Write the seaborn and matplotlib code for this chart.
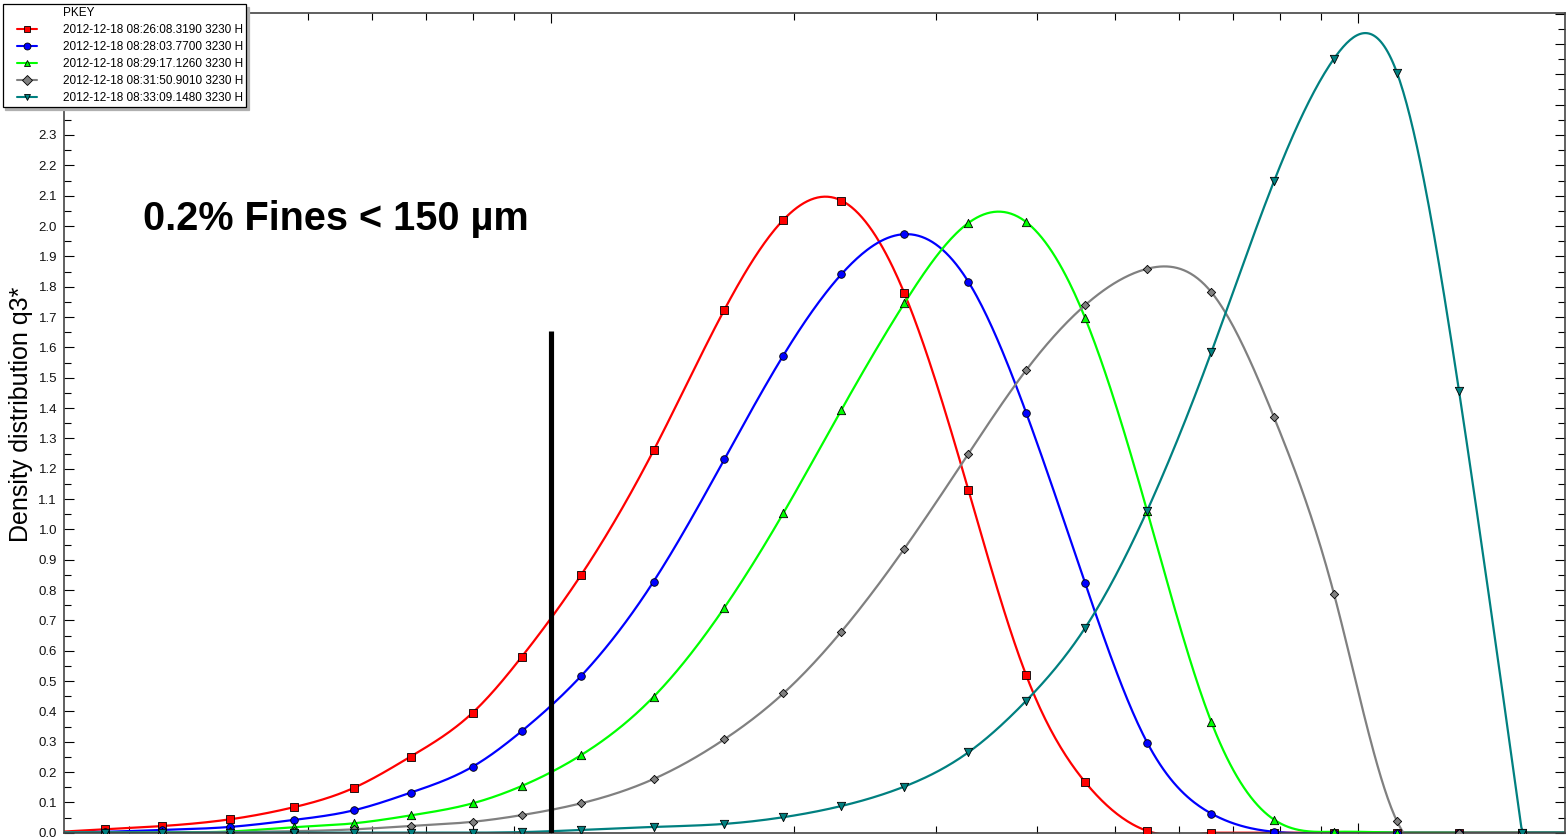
import numpy as np
import pandas as pd
import matplotlib
matplotlib.use("Agg")
import matplotlib.pyplot as plt
import matplotlib.ticker as mticker
from matplotlib.lines import Line2D
from matplotlib.legend_handler import HandlerLine2D
import seaborn as sns

sizes = [23.5, 28, 33, 40, 48, 57, 67, 80, 92, 109, 134, 164, 194, 229, 274,
         329, 388, 459, 548, 658, 787, 934, 1118, 1334, 1597, 1900]

q3_red = [0.0, 0.011, 0.022, 0.044, 0.084, 0.148, 0.251, 0.396, 0.580, 0.850,
          1.260, 1.724, 2.020, 2.084, 1.779, 1.130, 0.519, 0.167, 0.006, 0.0,
          0.0, 0.0, 0.0, 0.0, 0.0, 0.0]
q3_blue = [0.0, 0.003, 0.009, 0.019, 0.042, 0.074, 0.132, 0.218, 0.335, 0.517,
           0.828, 1.231, 1.573, 1.841, 1.973, 1.816, 1.384, 0.823, 0.297, 0.063,
           0.003, 0.0, 0.0, 0.0, 0.0, 0.0]
q3_green = [0.0, 0.0, 0.001, 0.004, 0.018, 0.031, 0.057, 0.097, 0.154, 0.256,
            0.448, 0.742, 1.053, 1.394, 1.745, 2.010, 2.013, 1.697, 1.060, 0.365,
            0.043, 0.003, 0.0, 0.0, 0.0, 0.0]
q3_gray = [0.0, 0.0, 0.0, 0.002, 0.005, 0.011, 0.022, 0.036, 0.058, 0.097,
           0.177, 0.308, 0.459, 0.663, 0.936, 1.249, 1.525, 1.739, 1.859, 1.782,
           1.369, 0.786, 0.037, 0.0, 0.0, 0.0]
q3_teal = [0.0, 0.0, 0.0, 0.0, 0.0, 0.0, 0.0, 0.0, 0.002, 0.009,
           0.019, 0.029, 0.051, 0.088, 0.152, 0.265, 0.435, 0.675, 1.062, 1.584,
           2.148, 2.552, 2.504, 1.456, 0.0, 0.0]

labels = ["2012-12-18 08:26:08.3190 3230 H",
          "2012-12-18 08:28:03.7700 3230 H",
          "2012-12-18 08:29:17.1260 3230 H",
          "2012-12-18 08:31:50.9010 3230 H",
          "2012-12-18 08:33:09.1480 3230 H"]
series = [q3_red, q3_blue, q3_green, q3_gray, q3_teal]
colors = ["#ff0000", "#0000ff", "#00ff00", "#808080", "#008080"]
markers = ["s", "o", "^", "D", "v"]
msizes = [28, 30, 36, 18, 36]

fines_cut = 100      # position of the hand drawn marker line
fines_height = 1.653


def spline(u, y, uu):
    # natural cubic spline
    k = len(u)
    h = np.diff(u)
    A = np.zeros((k, k))
    r = np.zeros(k)
    A[0, 0] = 1
    A[-1, -1] = 1
    for i in range(1, k - 1):
        A[i, i - 1] = h[i - 1]
        A[i, i] = 2 * (h[i - 1] + h[i])
        A[i, i + 1] = h[i]
        r[i] = 6 * ((y[i + 1] - y[i]) / h[i] - (y[i] - y[i - 1]) / h[i - 1])
    M = np.linalg.solve(A, r)
    j = np.clip(np.searchsorted(u, uu) - 1, 0, k - 2)
    a = u[j + 1] - uu
    b = uu - u[j]
    hj = h[j]
    return (M[j] * a ** 3 + M[j + 1] * b ** 3) / (6 * hj) \
        + (y[j] / hj - M[j] * hj / 6) * a + (y[j + 1] / hj - M[j + 1] * hj / 6) * b


def smooth(x, y, n=900):
    # curve through the points in log10(x); flat zero outside the support
    u = np.log10(np.asarray(x, float))
    y = np.asarray(y, float)
    nz = np.nonzero(y)[0]
    i0 = max(nz[0] - 1, 0)
    i1 = min(nz[-1] + 1, len(y) - 1)
    uu = np.linspace(u[0], u[-1], n)
    yy = np.zeros_like(uu)
    m = (uu >= u[i0]) & (uu <= u[i1])
    yy[m] = spline(u[i0:i1 + 1], y[i0:i1 + 1], uu[m])
    return 10 ** uu, np.clip(yy, -0.02, None)


sns.set_theme(style="white")
plt.rcParams["font.family"] = ["Liberation Sans", "DejaVu Sans"]
plt.rcParams["text.color"] = "black"
plt.rcParams["axes.labelcolor"] = "black"

fig = plt.figure(figsize=(15.66, 8.4), dpi=100)
ax = fig.add_axes([64 / 1566, 1 - 832.7 / 840, 1501 / 1566, 819.95 / 840])

for vals, c in zip(series, colors):
    xs, ys = smooth(sizes, vals)
    sns.lineplot(x=xs, y=ys, color=c, linewidth=1.6, ax=ax, sort=False,
                 estimator=None)

for vals, c, m, s in zip(series, colors, markers, msizes):
    sns.scatterplot(x=sizes, y=vals, color=c, marker=m, s=s, edgecolor="black",
                    linewidth=0.6, ax=ax, zorder=4)

ax.vlines(fines_cut, 0, fines_height, color="black", linewidth=3.7, zorder=6)

ax.set_xscale("log")
ax.set_xlim(24.92, 1805)
ax.set_ylim(0, 2.703)
ax.xaxis.set_major_locator(mticker.LogLocator(base=10))
ax.xaxis.set_minor_locator(mticker.LogLocator(base=10, subs=np.arange(2, 10)))
ax.xaxis.set_minor_formatter(mticker.NullFormatter())
ax.yaxis.set_major_locator(mticker.MultipleLocator(0.1))
ax.yaxis.set_minor_locator(mticker.MultipleLocator(0.05))
ax.yaxis.set_major_formatter(mticker.FormatStrFormatter("%.1f"))
ax.tick_params(which="both", direction="in", top=True, right=True,
               bottom=True, left=True, labelbottom=False, color="black",
               width=0.8)
ax.tick_params(which="major", length=7)
ax.tick_params(which="minor", length=5)
ax.tick_params(axis="y", labelsize=9.5, labelcolor="#111111", pad=5)
for sp in ax.spines.values():
    sp.set_color("#444444")
    sp.set_linewidth(1.2)
ax.set_xlabel("")
ax.set_ylabel("Density distribution q3*", fontsize=18)
ax.yaxis.set_label_coords(-0.0207, 0.51)

fig.text(143 / 1566, 1 - 230 / 840, "0.2% Fines < 150 µm", fontsize=28.5,
         fontweight="bold", va="baseline", ha="left", color="black")

handles = [Line2D([], [], linestyle="none", marker="none")]
for c, m in zip(colors, markers):
    handles.append(Line2D([], [], color=c, marker=m, markersize=5,
                          markerfacecolor=c, markeredgecolor="black",
                          markeredgewidth=0.6, linewidth=1.5))
leg = fig.legend(handles, ["PKEY"] + labels, loc="upper left",
                 bbox_to_anchor=(2.7 / 1566, 1 - 4.3 / 840),
                 borderaxespad=0, fontsize=8.5, frameon=True, fancybox=False,
                 shadow={"color": "#b0b0b0", "alpha": 1},
                 borderpad=0.25, labelspacing=0.42, handlelength=2.63,
                 handletextpad=2.2,
                 handler_map={Line2D: HandlerLine2D(xpad=0.93, numpoints=1)})
leg.get_frame().set_edgecolor("black")
leg.get_frame().set_linewidth(0.9)

fig.savefig("out.png", dpi=100)
